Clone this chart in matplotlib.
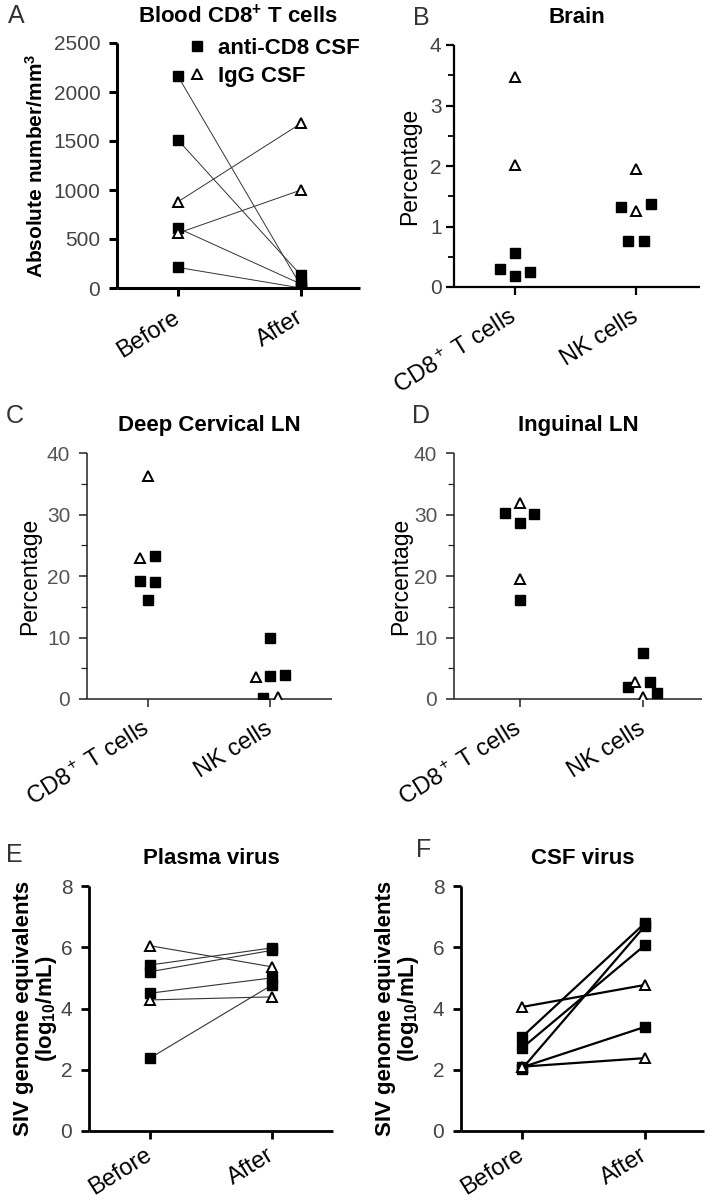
import matplotlib
matplotlib.use("Agg")
import matplotlib.pyplot as plt
from matplotlib.ticker import MultipleLocator

plt.rcParams['font.family'] = ['Liberation Sans', 'DejaVu Sans']
plt.rcParams['mathtext.fontset'] = 'custom'
plt.rcParams['mathtext.rm'] = 'Liberation Sans'
plt.rcParams['mathtext.bf'] = 'Liberation Sans:bold'
plt.rcParams['mathtext.it'] = 'Liberation Sans:italic'

# A - blood CD8+ T cells (before / after)
pair_labels = ['Before', 'After']
a_anti_before = [2160, 1510, 610, 210]
a_anti_after = [20, 130, 40, 0]
a_igg_before = [880, 560]
a_igg_after = [1680, 1000]

# B - brain
cell_labels = ['CD8$^+$ T cells', 'NK cells']
b_cd8_anti = [0.57, 0.30, 0.18, 0.24]
b_cd8_igg = [3.47, 2.02]
b_nk_anti = [1.33, 1.37, 0.76, 0.76]
b_nk_igg = [1.95, 1.26]

# C - deep cervical LN
c_cd8_anti = [23.2, 19.2, 19.0, 16.1]
c_cd8_igg = [36.2, 22.9]
c_nk_anti = [10.0, 3.75, 3.9, 0.2]
c_nk_igg = [3.6, 0.4]

# D - inguinal LN
d_cd8_anti = [30.2, 28.6, 30.1, 16.1]
d_cd8_igg = [31.9, 19.5]
d_nk_anti = [7.5, 2.8, 1.9, 1.0]
d_nk_igg = [2.8, 0.3]

# E - plasma virus
e_anti_before = [5.42, 5.2, 4.5, 2.38]
e_anti_after = [5.98, 5.9, 5.0, 4.77]
e_igg_before = [6.05, 4.28]
e_igg_after = [5.36, 4.38]

# F - CSF virus
f_anti_before = [3.07, 2.71, 2.03, 2.08]
f_anti_after = [6.79, 6.07, 6.7, 3.4]
f_igg_before = [4.05, 2.1]
f_igg_after = [4.77, 2.38]

# horizontal jitter of the dots (category units)
b_cd8_anti_dx = [0, -0.12, 0, 0.12]
b_nk_anti_dx = [-0.12, 0.12, -0.065, 0.065]
c_cd8_anti_dx = [0.06, -0.065, 0.06, 0]
c_cd8_igg_dx = [0, -0.065]
c_nk_anti_dx = [0, 0, 0.12, -0.06]
c_nk_igg_dx = [-0.115, 0.065]
d_cd8_anti_dx = [-0.12, 0, 0.115, 0]
d_nk_anti_dx = [0, 0.06, -0.12, 0.115]
d_nk_igg_dx = [-0.065, 0]

W, H = 708, 1200
fig = plt.figure(figsize=(W / 100, H / 100), dpi=100)


def box(l, r, t, b):
    return [l / W, 1 - b / H, (r - l) / W, (b - t) / H]


sq = dict(marker='s', ms=6.5, mfc='black', mec='black', ls='none', zorder=3)
tri = dict(marker='^', ms=7.5, mfc='white', mec='black', mew=1.4, ls='none', zorder=3)


def style(ax, lw, col, tcol, ypad=6):
    for s in ['top', 'right']:
        ax.spines[s].set_visible(False)
    for s in ['left', 'bottom']:
        ax.spines[s].set_linewidth(lw)
        ax.spines[s].set_color(col)
        ax.spines[s].set_capstyle('butt')
    ax.tick_params(which='major', length=6, width=lw, color=col, pad=ypad,
                   labelsize=15, labelcolor=tcol)
    ax.tick_params(which='minor', length=4, width=lw * 0.8, color=col)


def xlabels(ax, labels, pad=14):
    ax.set_xticks([0, 1])
    ax.set_xticklabels(labels, rotation=32, ha='right', va='center',
                       rotation_mode='anchor', fontsize=17, color='black')
    ax.tick_params(axis='x', pad=pad)


def pairs(ax, before, after, fmt, lw, col):
    for y0, y1 in zip(before, after):
        ax.plot([0, 1], [y0, y1], color=col, lw=lw, zorder=2)
    ax.plot([0] * len(before), before, **fmt)
    ax.plot([1] * len(after), after, **fmt)


def dots(ax, xc, vals, dx, fmt):
    ax.plot([xc + d for d in dx], vals, **fmt)


def letter(x, y, s):
    fig.text(x / W, 1 - y / H, s, fontsize=18, color='#333333', va='top', ha='left')


# ---- A ----
ax = fig.add_axes(box(117, 360, 43, 288))
pairs(ax, a_anti_before, a_anti_after, sq, 0.7, '#333333')
pairs(ax, a_igg_before, a_igg_after, tri, 0.7, '#333333')
ax.set_xlim(-(178 - 117) / 123, 1 + (360 - 301) / 123)
ax.set_ylim(0, 2500)
ax.set_yticks([0, 500, 1000, 1500, 2000, 2500])
style(ax, 2.2, 'black', '#444444')
xlabels(ax, pair_labels)
ax.set_ylabel('Absolute number/mm$^\\mathbf{3}$', fontsize=15, fontweight='bold', labelpad=5)
ax.set_title('Blood CD8$^\\mathbf{+}$ T cells', fontsize=16, fontweight='bold', pad=14)
h1, = ax.plot([], [], **sq)
h2, = ax.plot([], [], **tri)
fig.legend([h1, h2], ['anti-CD8 CSF', 'IgG CSF'], loc='upper left',
           bbox_to_anchor=(186 / W, 1 - 38 / H), frameon=False,
           prop={'weight': 'bold', 'size': 16}, handlelength=1.0, handletextpad=0.45,
           labelspacing=0.3, borderpad=0, borderaxespad=0)
letter(8, 4, 'A')

# ---- B ----
ax = fig.add_axes(box(454, 700, 45, 287))
dots(ax, 0, b_cd8_anti, b_cd8_anti_dx, sq)
dots(ax, 0, b_cd8_igg, [0, 0], tri)
dots(ax, 1, b_nk_anti, b_nk_anti_dx, sq)
dots(ax, 1, b_nk_igg, [0, 0], tri)
ax.set_xlim(-(515 - 454) / 121, 1 + (700 - 636) / 121)
ax.set_ylim(0, 4)
ax.set_yticks([0, 1, 2, 3, 4])
ax.yaxis.set_minor_locator(MultipleLocator(0.5))
style(ax, 1.6, 'black', '#444444', ypad=3)
xlabels(ax, cell_labels)
ax.set_ylabel('Percentage', fontsize=16.5, labelpad=6)
ax.set_title('Brain', fontsize=16, fontweight='bold', pad=16)
letter(413, 6, 'B')

# ---- C ----
ax = fig.add_axes(box(87, 332, 453, 699))
dots(ax, 0, c_cd8_anti, c_cd8_anti_dx, sq)
dots(ax, 0, c_cd8_igg, c_cd8_igg_dx, tri)
dots(ax, 1, c_nk_anti, c_nk_anti_dx, sq)
dots(ax, 1, c_nk_igg, c_nk_igg_dx, tri)
ax.set_xlim(-(148 - 87) / 122, 1 + (332 - 270) / 122)
ax.set_ylim(0, 40)
ax.set_yticks([0, 10, 20, 30, 40])
ax.yaxis.set_minor_locator(MultipleLocator(5))
style(ax, 1.1, '#222222', '#555555')
xlabels(ax, cell_labels)
ax.set_ylabel('Percentage', fontsize=16.5, labelpad=4)
ax.set_title('Deep Cervical LN', fontsize=16, fontweight='bold', pad=16)
letter(6, 404, 'C')

# ---- D ----
ax = fig.add_axes(box(454, 702, 453, 699))
dots(ax, 0, d_cd8_anti, d_cd8_anti_dx, sq)
dots(ax, 0, d_cd8_igg, [0, 0], tri)
dots(ax, 1, d_nk_anti, d_nk_anti_dx, sq)
dots(ax, 1, d_nk_igg, d_nk_igg_dx, tri)
ax.set_xlim(-(520 - 454) / 123, 1 + (702 - 643) / 123)
ax.set_ylim(0, 40)
ax.set_yticks([0, 10, 20, 30, 40])
ax.yaxis.set_minor_locator(MultipleLocator(5))
style(ax, 1.1, '#222222', '#555555')
xlabels(ax, cell_labels)
ax.set_ylabel('Percentage', fontsize=16.5, labelpad=1)
ax.set_title('Inguinal LN', fontsize=16, fontweight='bold', pad=16)
letter(412, 404, 'D')

# ---- E ----
ax = fig.add_axes(box(89, 333, 886, 1131))
pairs(ax, e_anti_before, e_anti_after, sq, 0.8, '#333333')
pairs(ax, e_igg_before, e_igg_after, tri, 0.8, '#333333')
ax.set_xlim(-0.5, 1.5)
ax.set_ylim(0, 8)
ax.set_yticks([0, 2, 4, 6, 8])
style(ax, 2.0, 'black', '#444444')
xlabels(ax, pair_labels, pad=10)
ax.set_ylabel('SIV genome equivalents\n(log$_\\mathbf{10}$/mL)', fontsize=16,
              fontweight='bold', labelpad=1, linespacing=1.0)
ax.set_title('Plasma virus', fontsize=16, fontweight='bold', pad=16)
letter(6, 843, 'E')

# ---- F ----
ax = fig.add_axes(box(461, 704, 886, 1131))
pairs(ax, f_anti_before, f_anti_after, sq, 1.6, 'black')
pairs(ax, f_igg_before, f_igg_after, tri, 1.6, 'black')
ax.set_xlim(-(522 - 461) / 123, 1 + (704 - 645) / 123)
ax.set_ylim(0, 8)
ax.set_yticks([0, 2, 4, 6, 8])
style(ax, 2.0, 'black', '#444444')
xlabels(ax, pair_labels, pad=10)
ax.set_ylabel('SIV genome equivalents\n(log$_\\mathbf{10}$/mL)', fontsize=16,
              fontweight='bold', labelpad=8, linespacing=1.0)
ax.set_title('CSF virus', fontsize=16, fontweight='bold', pad=16)
letter(416, 838, 'F')

fig.savefig('out.png', dpi=100)
